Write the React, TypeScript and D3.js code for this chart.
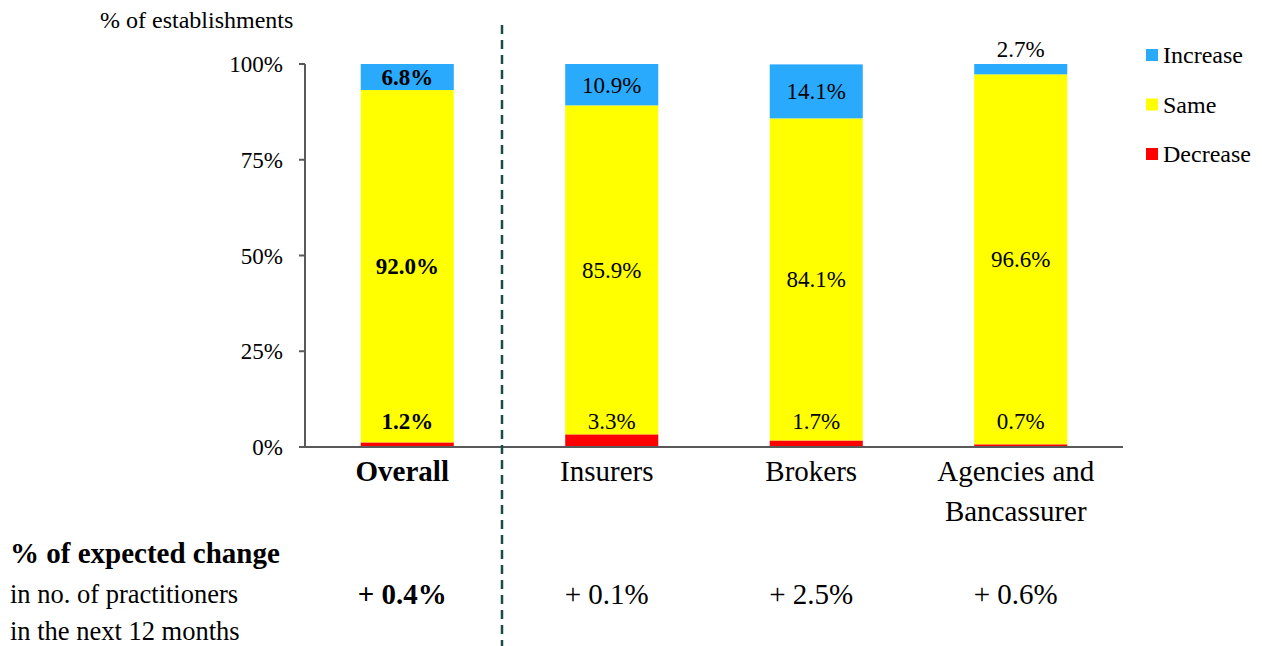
import React from "react";
import * as d3 from "d3";

const categories = ["Overall", "Insurers", "Brokers", "Agencies and\nBancassurer"];
const decreaseValues = [1.2, 3.3, 1.7, 0.7];
const sameValues = [92.0, 85.9, 84.1, 96.6];
const increaseValues = [6.8, 10.9, 14.1, 2.7];
const expectedChange = ["+ 0.4%", "+ 0.1%", "+ 2.5%", "+ 0.6%"];
const yTicks = [0, 25, 50, 75, 100];
const seriesNames = ["Increase", "Same", "Decrease"];
const seriesColors: Record<string, string> = { Increase: "#2AAAFC", Same: "#FFFF00", Decrease: "#FF0000" };

const W = 1262;
const H = 646;
const FONT = "'Liberation Serif', 'Times New Roman', serif";

export default function App() {
  const x = d3.scaleBand<string>().domain(categories).range([305, 1123]).paddingInner(0.545).paddingOuter(0.2725);
  const y = d3.scaleLinear().domain([0, 100]).range([447, 64]);
  const bw = x.bandwidth();

  const rows = categories.map((c, i) => ({
    c,
    i,
    dec: decreaseValues[i],
    same: sameValues[i],
    inc: increaseValues[i],
  }));

  return (
    <div style={{ position: "absolute", left: 0, top: 0 }}>
      <svg width={W} height={H} style={{ display: "block", fontFamily: FONT }}>
        <rect x={0} y={0} width={W} height={H} fill="#fff" />
        {/* y axis title */}
        <text x={100} y={28} fontSize={24} fill="#000">% of establishments</text>
        {/* bars */}
        {rows.map((r) => {
          const x0 = x(r.c)!;
          const cx = x0 + bw / 2;
          const bold = r.i === 0 ? "bold" : "normal";
          const yDecTop = y(r.dec);
          const ySameTop = y(r.dec + r.same);
          const yIncTop = y(Math.min(100, r.dec + r.same + r.inc));
          const incInside = r.inc >= 5;
          const incLabelY = incInside ? (ySameTop + yIncTop) / 2 : yIncTop - 15;
          return (
            <g key={r.c}>
              <rect x={x0} y={yDecTop} width={bw} height={y(0) - yDecTop} fill={seriesColors.Decrease} />
              <rect x={x0} y={ySameTop} width={bw} height={yDecTop - ySameTop} fill={seriesColors.Same} />
              <rect x={x0} y={yIncTop} width={bw} height={ySameTop - yIncTop} fill={seriesColors.Increase} />
              <text x={cx} y={incLabelY} dy="0.35em" textAnchor="middle" fontSize={23} fontWeight={bold}>
                {r.inc.toFixed(1)}%
              </text>
              <text x={cx} y={(ySameTop + yDecTop) / 2} dy="0.35em" textAnchor="middle" fontSize={23} fontWeight={bold}>
                {r.same.toFixed(1)}%
              </text>
              <text x={cx} y={y(0) - 26} dy="0.35em" textAnchor="middle" fontSize={23} fontWeight={bold}>
                {r.dec.toFixed(1)}%
              </text>
              {r.c.split("\n").map((line, li) => (
                <text key={li} x={cx - 5} y={471 + li * 40} dy="0.35em" textAnchor="middle" fontSize={29} fontWeight={bold}>
                  {line}
                </text>
              ))}
              <text x={cx - 5} y={594} dy="0.35em" textAnchor="middle" fontSize={29} fontWeight={bold}>
                {expectedChange[r.i]}
              </text>
            </g>
          );
        })}
        {/* y axis */}
        <line x1={305} x2={305} y1={y(100)} y2={y(0)} stroke="#595959" strokeWidth={2} />
        {yTicks.map((t) => (
          <g key={t}>
            <line x1={299} x2={305} y1={y(t)} y2={y(t)} stroke="#595959" strokeWidth={2} />
            <text x={283} y={y(t)} dy="0.35em" textAnchor="end" fontSize={23} fill="#000">{t}%</text>
          </g>
        ))}
        {/* x axis */}
        <line x1={304} x2={1123} y1={y(0)} y2={y(0)} stroke="#595959" strokeWidth={2} />
        {/* dashed divider */}
        <line x1={502} x2={502} y1={25} y2={646} stroke="#1B4D47" strokeWidth={2.5} strokeDasharray="9 6" />
        {/* legend */}
        {seriesNames.map((s, i) => (
          <g key={s} transform={`translate(1146, ${55 + i * 49.5})`}>
            <rect x={0} y={-6} width={12} height={12} fill={seriesColors[s]} />
            <text x={17} y={0} dy="0.35em" fontSize={24} fill="#000">{s}</text>
          </g>
        ))}
        {/* bottom annotation */}
        <text x={10} y={553} dy="0.35em" fontSize={29} fontWeight="bold">% of expected change</text>
        <text x={10} y={594} dy="0.35em" fontSize={26.5}>in no. of practitioners</text>
        <text x={10} y={631} dy="0.35em" fontSize={26.5}>in the next 12 months</text>
      </svg>
    </div>
  );
}
